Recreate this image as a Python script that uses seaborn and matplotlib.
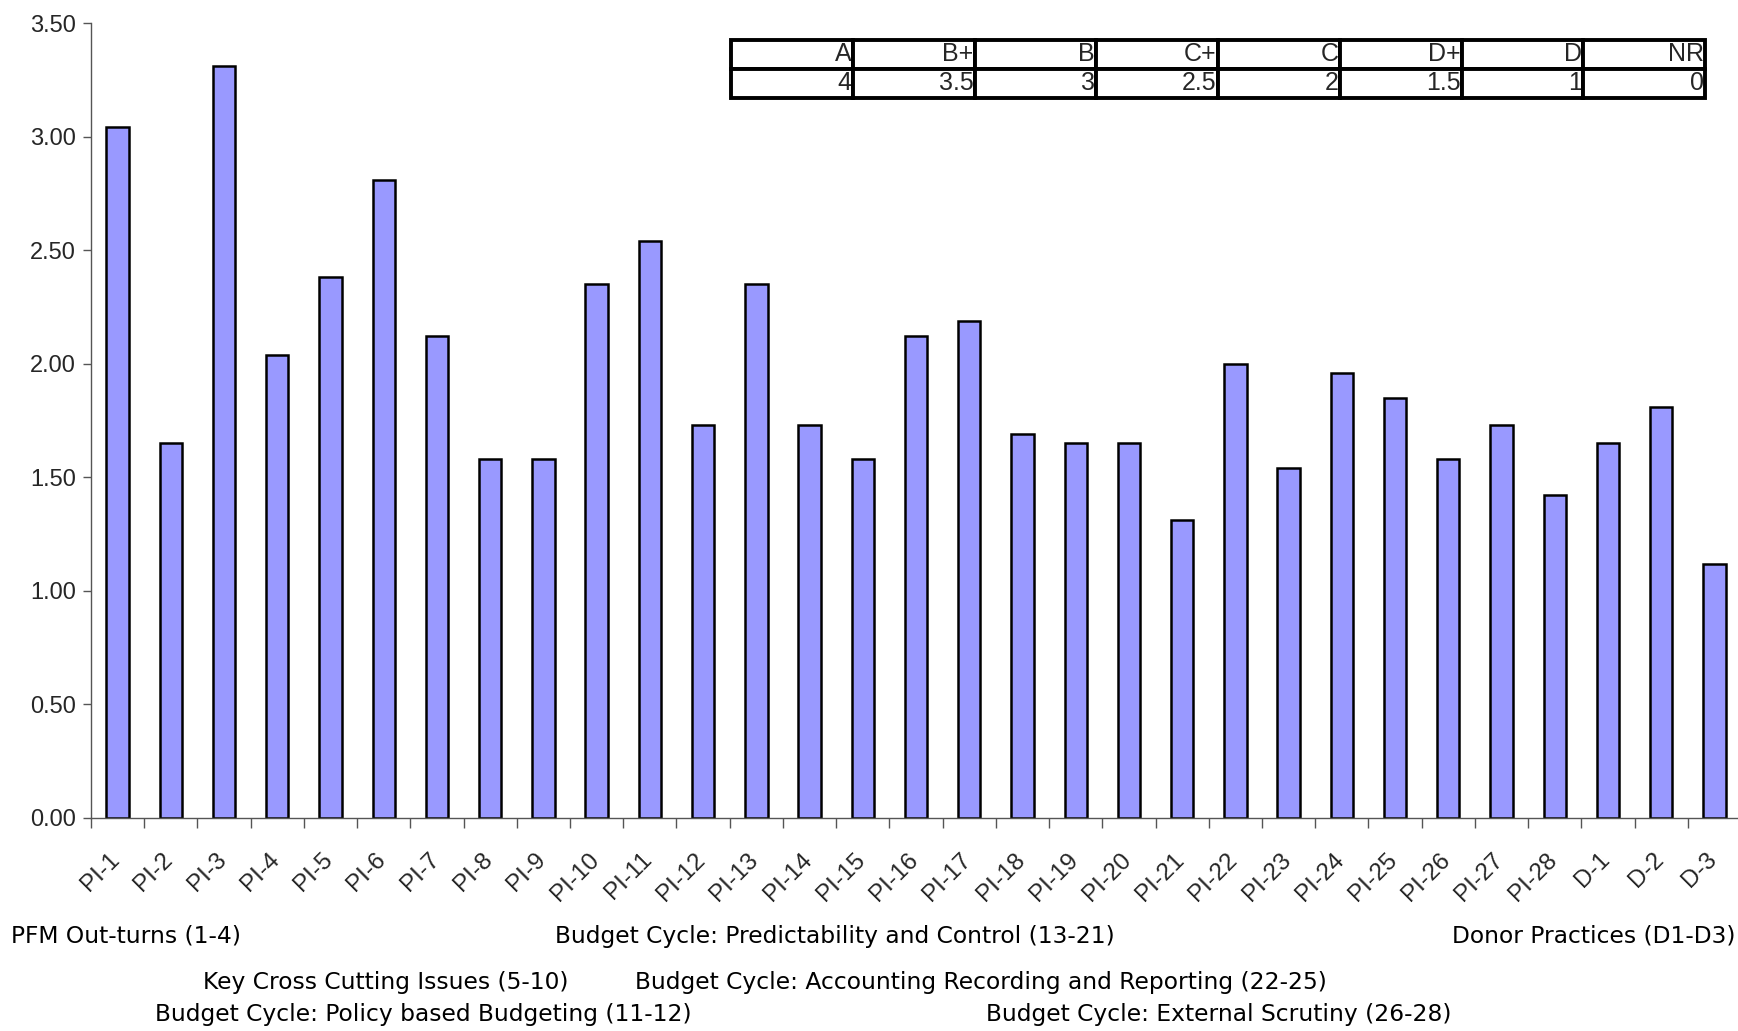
import matplotlib
matplotlib.use("Agg")
import matplotlib.pyplot as plt
import matplotlib.transforms as mtransforms
import seaborn as sns
import numpy as np
import pandas as pd

# Indicator labels and average scores
indicators = ["PI-1", "PI-2", "PI-3", "PI-4", "PI-5", "PI-6", "PI-7", "PI-8", "PI-9", "PI-10",
              "PI-11", "PI-12", "PI-13", "PI-14", "PI-15", "PI-16", "PI-17", "PI-18", "PI-19", "PI-20",
              "PI-21", "PI-22", "PI-23", "PI-24", "PI-25", "PI-26", "PI-27", "PI-28", "D-1", "D-2", "D-3"]
scores = [3.04, 1.65, 3.31, 2.04, 2.38, 2.81, 2.12, 1.58, 1.58, 2.35,
          2.54, 1.73, 2.35, 1.73, 1.58, 2.12, 2.19, 1.69, 1.65, 1.65,
          1.31, 2.00, 1.54, 1.96, 1.85, 1.58, 1.73, 1.42, 1.65, 1.81, 1.12]

# Rating scale legend
grades = ["A", "B+", "B", "C+", "C", "D+", "D", "NR"]
grade_points = ["4", "3.5", "3", "2.5", "2", "1.5", "1", "0"]

# Indicator group captions
group_names = ["PFM Out-turns (1-4)",
               "Budget Cycle: Predictability and Control (13-21)",
               "Donor Practices (D1-D3)",
               "Key Cross Cutting Issues (5-10)",
               "Budget Cycle: Accounting Recording and Reporting (22-25)",
               "Budget Cycle: Policy based Budgeting (11-12)",
               "Budget Cycle: External Scrutiny (26-28)"]

sns.set_theme(style="white")
plt.rcParams["font.family"] = ["DejaVu Sans"]

W, H = 1738, 1031
fig = plt.figure(figsize=(W / 100, H / 100), dpi=100)
ax = fig.add_axes([91 / W, 1 - 818 / H, (1741 - 91) / W, (818 - 23) / H])

df = pd.DataFrame({"indicator": indicators, "score": scores})
sns.barplot(data=df, x="indicator", y="score", color="#9999FF", saturation=1,
            edgecolor="black", linewidth=1.8, width=0.42, ax=ax)

ax.set_xlim(-0.5, len(indicators) - 0.5)
ax.set_ylim(0, 3.5)
ax.set_yticks(np.arange(0, 3.51, 0.5))
ax.set_yticklabels([f"{v:.2f}" for v in np.arange(0, 3.51, 0.5)], fontsize=17,
                   family=["Liberation Sans", "DejaVu Sans"])
ax.set_xlabel("")
ax.set_ylabel("")

# Category separators as minor ticks, labels on the majors
ax.set_xticks(np.arange(-0.5, len(indicators), 1.0), minor=True)
ax.set_xticks(np.arange(len(indicators)))
ax.set_xticklabels(indicators, rotation=45, ha="right", rotation_mode="anchor",
                   fontsize=17.5, family=["Liberation Sans", "DejaVu Sans"])
ax.tick_params(axis="x", which="major", length=0, pad=22)
ax.tick_params(axis="x", which="minor", length=7, width=1, color="#555555", direction="out", bottom=True)
ax.tick_params(axis="y", length=6, width=1, color="#555555", direction="out", left=True, pad=5)

# nudge the slanted labels so their upper end sits under each bar's left edge
shift = mtransforms.ScaledTranslation(-0.09, 0, fig.dpi_scale_trans)
for lbl in ax.get_xticklabels():
    lbl.set_transform(lbl.get_transform() + shift)

for side in ["top", "right"]:
    ax.spines[side].set_visible(False)
for side in ["left", "bottom"]:
    ax.spines[side].set_color("#555555")
    ax.spines[side].set_linewidth(1)

# Grade-to-points table
tax = fig.add_axes([731 / W, 1 - 98 / H, (1705 - 731) / W, (98 - 40) / H])
tax.axis("off")
tbl = tax.table(cellText=[grades, grade_points], cellLoc="right", bbox=[0, 0, 1, 1])
tbl.auto_set_font_size(False)
for (r, c), cell in tbl.get_celld().items():
    cell.set_linewidth(2.8)
    cell.set_edgecolor("black")
    cell.set_facecolor("white")
    cell.PAD = 0.01
    cell.get_text().set_fontsize(18)
    cell.get_text().set_family(["Liberation Sans", "DejaVu Sans"])

# Group captions beneath the axis
caption_pos = [(11, 936), (555, 936), (1452, 936), (203, 983), (635, 983), (155, 1015), (986, 1015)]
for name, (px, py) in zip(group_names, caption_pos):
    fig.text(px / W, 1 - py / H, name, ha="left", va="center", fontsize=16.8,
             family=["DejaVu Sans"], color="black")

fig.savefig("out.png", dpi=100)
